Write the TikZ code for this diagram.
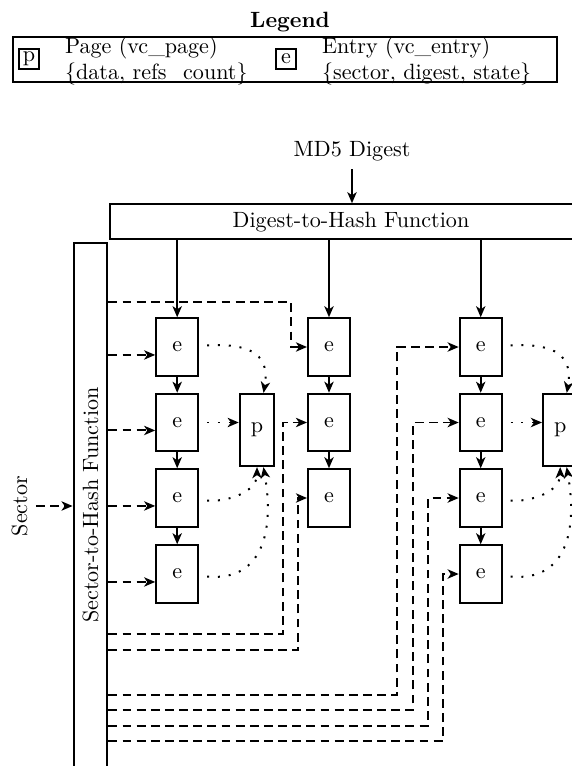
\documentclass[tikz,border=0pt]{standalone}
\usetikzlibrary{arrows.meta}
\begin{document}
\begin{tikzpicture}[
	x=0.4525pt, y=-0.4525pt, line width=0.9pt,
	>={Stealth[length=5pt,width=4.2pt,inset=1.4pt]},
	ebox/.style={ draw, inner sep=0pt, minimum width=19pt, minimum height=26pt },
	pbox/.style={ draw, inner sep=0pt, minimum width=15.6pt, minimum height=32.7pt },
	keybox/.style={ draw, inner sep=0pt, minimum size=9.2pt },
	dline/.style={ dash pattern=on 4pt off 2.4pt },
	pline/.style={ loosely dotted, shorten <=3.6pt }
]
\useasboundingbox (0,0) rectangle (572,766);
\clip (0,0) rectangle (572,766);

% legend
\node at (290,22) (legend) [font=\bfseries] {Legend};
\node at (285,59.5) (legbox) [draw, minimum width=246pt, minimum height=20.2pt] {};
\node at (29,59) (kp) [keybox,label={[align=left,label distance=7.5pt,yshift=-0.9pt]right:{Page (vc\_page)\\\{data, refs\_count\}}}] {p};
\node at (286,59) (ke) [keybox,label={[align=left,label distance=7.5pt,yshift=-0.9pt]right:{Entry (vc\_entry)\\\{sector, digest, state\}}}] {e};

% hash functions
\node at (352,151) (md5) {MD5 Digest};
\node at (351,221.7) (dig) [draw, minimum width=218pt, minimum height=15.8pt] {Digest-to-Hash Function};
\draw[->] (md5) -- (md5 |- dig.north);

\node at (90.5,505) (sec) [draw, minimum width=15.3pt, minimum height=237pt, label={[rotate=90]center:Sector-to-Hash Function}] {};
\node at (19.5,506) (sector) [rotate=90] {Sector};
\draw[dline,->] (sector) -- (sector -| sec.west);

% first bucket column
\node at (177.2,347) (e11) [ebox] {e};
\node at (177.2,422.5) (e12) [ebox] {e};
\node at (177.2,498) (e13) [ebox] {e};
\node at (177.2,574) (e14) [ebox] {e};
\node at (257,430) (p1) [pbox] {p};

% second bucket column
\node at (329,347) (e21) [ebox] {e};
\node at (329,422.5) (e22) [ebox] {e};
\node at (329,498) (e23) [ebox] {e};

% third bucket column
\node at (480.7,347) (e31) [ebox] {e};
\node at (480.7,422.5) (e32) [ebox] {e};
\node at (480.7,498) (e33) [ebox] {e};
\node at (480.7,574) (e34) [ebox] {e};
\node at (560.2,430) (p3) [pbox] {p};

\foreach \e in {e11,e21,e31} \draw[->] (dig.south -| \e) -- (\e);
\foreach \a/\b in {e11/e12,e12/e13,e13/e14,e21/e22,e22/e23,e31/e32,e32/e33,e33/e34} \draw[->] (\a) -- (\b);

% sector lookups
\foreach \e in {e11,e12,e13,e14} {
	\coordinate (in\e) at ([yshift=-3.6pt]\e.west);
	\draw[dline,->] (in\e -| sec.east) -- (in\e);
}
\foreach \e/\x/\y in {e21/291/302,e22/283/634,e23/298/650,e31/397/695,e32/413/710,e33/428/725.5,e34/443/741}
	\draw[dline,->] (sec.east |- 0,\y) -| (\e -| \x,0) -- (\e);

% page references
\foreach \c in {1,3} {
	\draw[pline,->] (e\c1) to[out=3,in=80,looseness=1.4] (p\c);
	\draw[pline,->] (e\c2) -- (e\c2 -| p\c.west);
	\draw[pline,->] (e\c3) to[out=-5,in=-90] (p\c);
	\draw[pline,->] (e\c4) to[out=-5,in=-80,looseness=1.3] ([xshift=2.9pt]p\c.south);
}

\end{tikzpicture}
\end{document}
